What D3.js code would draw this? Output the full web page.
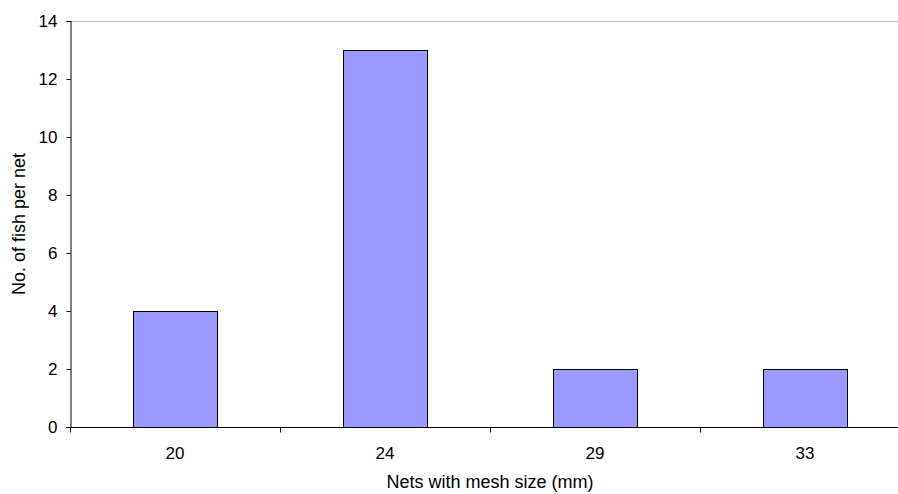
<!DOCTYPE html>
<html>
<head>
<meta charset="utf-8">
<script src="https://cdn.jsdelivr.net/npm/d3@7"></script>
<style>
  body { margin: 0; background: #fff; }
  svg { display: block; font-family: "Liberation Sans", Arial, sans-serif; }
  .tick text { font-size: 17px; fill: #000; }
</style>
</head>
<body>
<div id="chart"></div>
<script>
const categories = ['20', '24', '29', '33'];
const fishPerNet = [4, 13, 2, 2];
const yTicks = [0, 2, 4, 6, 8, 10, 12, 14];

const width = 898, height = 494;
// plot runs past the right edge of the picture, like the original
const plot = { left: 70, top: 21, right: 910, bottom: 427 };

const svg = d3.select('#chart')
    .append('svg')
    .attr('width', width)
    .attr('height', height);

const x = d3.scaleBand()
    .domain(categories)
    .range([plot.left, plot.right])
    .paddingInner(0.6)
    .paddingOuter(0.3);

const y = d3.scaleLinear()
    .domain([0, 14])
    .range([plot.bottom, plot.top]);

// top border of plot area
svg.append('line')
    .attr('x1', plot.left).attr('x2', plot.right)
    .attr('y1', plot.top + 0.5).attr('y2', plot.top + 0.5)
    .attr('stroke', '#b3b3b3');

// bars
svg.append('g')
    .selectAll('rect')
    .data(fishPerNet)
    .enter()
    .append('rect')
    .attr('x', (d, i) => Math.round(x(categories[i])) + 0.5)
    .attr('y', d => Math.round(y(d)) + 0.5)
    .attr('width', Math.round(x.bandwidth()))
    .attr('height', d => Math.round(y(0)) - Math.round(y(d)))
    .attr('fill', '#9999ff')
    .attr('stroke', '#000')
    .attr('stroke-width', 1);

// y axis
const yAxis = svg.append('g')
    .attr('transform', `translate(${plot.left + 0.5},0)`)
    .call(d3.axisLeft(y).tickValues(yTicks).tickSize(4).tickPadding(9));
yAxis.select('.domain').attr('stroke', '#000');

// x axis: ticks sit on category boundaries
const step = x.step();
const boundaries = d3.range(categories.length + 1).map(i => plot.left + i * step);
const xg = svg.append('g')
    .attr('transform', `translate(0,${plot.bottom + 0.5})`);
xg.append('line')
    .attr('x1', plot.left).attr('x2', plot.right)
    .attr('stroke', '#000');
xg.selectAll('.btick')
    .data(boundaries)
    .enter()
    .append('line')
    .attr('class', 'btick')
    .attr('x1', d => Math.round(d) + 0.5).attr('x2', d => Math.round(d) + 0.5)
    .attr('y1', 0).attr('y2', 5)
    .attr('stroke', '#000');
xg.selectAll('.lbl')
    .data(categories)
    .enter()
    .append('text')
    .attr('class', 'lbl')
    .attr('x', d => x(d) + x.bandwidth() / 2)
    .attr('y', 31)
    .attr('text-anchor', 'middle')
    .style('font-size', '17px')
    .text(d => d);

// axis titles
svg.append('text')
    .attr('x', (plot.left + plot.right) / 2)
    .attr('y', 488)
    .attr('text-anchor', 'middle')
    .style('font-size', '18px')
    .text('Nets with mesh size (mm)');

svg.append('text')
    .attr('transform', `translate(25,${(plot.top + plot.bottom) / 2}) rotate(-90)`)
    .attr('text-anchor', 'middle')
    .style('font-size', '18px')
    .text('No. of fish per net');
</script>
</body>
</html>
